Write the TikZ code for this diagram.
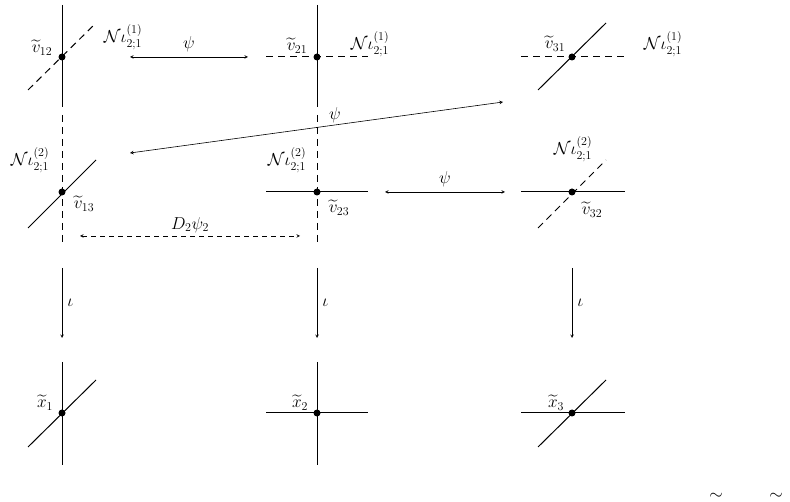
\documentclass[tikz,border=0pt]{standalone}
\usepackage{amsmath}
\begin{document}
\begin{tikzpicture}[x=1pt,y=-1pt,
  sol/.style={line width=1pt},
  das/.style={line width=1pt,dash pattern=on 7pt off 5pt},
  arr/.style={line width=0.6pt,<->,>=stealth},
  dot/.style={circle,fill,inner sep=0pt,minimum size=7pt},
  lab/.style={font=\fontsize{17}{20}\selectfont,inner sep=1pt}]
\useasboundingbox (0,0) rectangle (790,502);
\clip (0,0) rectangle (790,502);
% row 1
\node[dot] (a12) at (62,57) {};
\draw[sol] (62,5) -- (62,107);
\draw[das] (28,90) -- (96,23);
\node[lab] (l12) at (42,48) {$\widetilde{v}_{12}$};
\node[lab] (n12) at (123,37) {$\mathcal{N}\iota^{(1)}_{2;1}$};
\node[dot] (a21) at (317,57) {};
\draw[sol] (317,5) -- (317,107);
\draw[das] (266,57) -- (368,57);
\node[lab] (l21) at (297,46) {$\widetilde{v}_{21}$};
\node[lab] (n21) at (370,44) {$\mathcal{N}\iota^{(1)}_{2;1}$};
\node[dot] (a31) at (572,57) {};
\draw[das] (521,57) -- (625,57);
\draw[sol] (538,90) -- (606,23);
\node[lab] (l31) at (555,44) {$\widetilde{v}_{31}$};
\node[lab] (n31) at (663,44) {$\mathcal{N}\iota^{(1)}_{2;1}$};
\coordinate (p1) at (130,57); \coordinate (p2) at (248,57);
\draw[arr] (p1) -- node[lab,above=4pt] {$\psi$} (p2);
\coordinate (q1) at (503,102); \coordinate (q2) at (130,153);
\draw[arr] (q1) -- (q2);
\node[lab] (psi2) at (335,115) {$\psi$};
% row 2
\node[dot] (a13) at (62,192) {};
\draw[das] (62,115) -- (62,245);
\draw[sol] (28,228) -- (96,160);
\node[lab] (l13) at (84,204) {$\widetilde{v}_{13}$};
\node[lab] (n13) at (30,160) {$\mathcal{N}\iota^{(2)}_{2;1}$};
\node[dot] (a23) at (317,192) {};
\draw[das] (317,115) -- (317,245);
\draw[sol] (266,192) -- (368,192);
\node[lab] (l23) at (339,208) {$\widetilde{v}_{23}$};
\node[lab] (n23) at (287,160) {$\mathcal{N}\iota^{(2)}_{2;1}$};
\node[dot] (a32) at (572,192) {};
\draw[sol] (521,192) -- (625,192);
\draw[das] (538,228) -- (606,160);
\node[lab] (n32) at (573,149) {$\mathcal{N}\iota^{(2)}_{2;1}$};
\node[lab] (l32) at (592,210) {$\widetilde{v}_{32}$};
\coordinate (r1) at (385,192); \coordinate (r2) at (505,192);
\draw[arr] (r1) -- node[lab,above=4pt] {$\psi$} (r2);
\coordinate (s1) at (80,236); \coordinate (s2) at (300,236);
\draw[arr,dash pattern=on 5pt off 4pt] (s1) -- node[lab,above=2pt] {$D_2\psi_2$} (s2);
% iota arrows
\foreach \x/\n in {62/i1,317/i2,572/i3}{
  \coordinate (\n a) at (\x,268); \coordinate (\n b) at (\x,338);
  \draw[line width=0.6pt,->,>=stealth] (\n a) -- node[lab,right=4pt] {$\iota$} (\n b);
}
% row 3
\node[dot] (x1) at (62,413) {};
\draw[sol] (62,362) -- (62,465);
\draw[sol] (28,447) -- (96,380);
\node[lab] (lx1) at (45,403) {$\widetilde{x}_1$};
\node[dot] (x2) at (317,413) {};
\draw[sol] (317,362) -- (317,465);
\draw[sol] (266,413) -- (368,413);
\node[lab] (lx2) at (300,403) {$\widetilde{x}_2$};
\node[dot] (x3) at (572,413) {};
\draw[sol] (521,413) -- (625,413);
\draw[sol] (538,447) -- (606,380);
\node[lab] (lx3) at (556,403) {$\widetilde{x}_3$};
% clipped leftovers
\node[lab] (t1) at (716,496) {$\sim$};
\node[lab] (t2) at (776,496) {$\sim$};
\end{tikzpicture}
\end{document}
